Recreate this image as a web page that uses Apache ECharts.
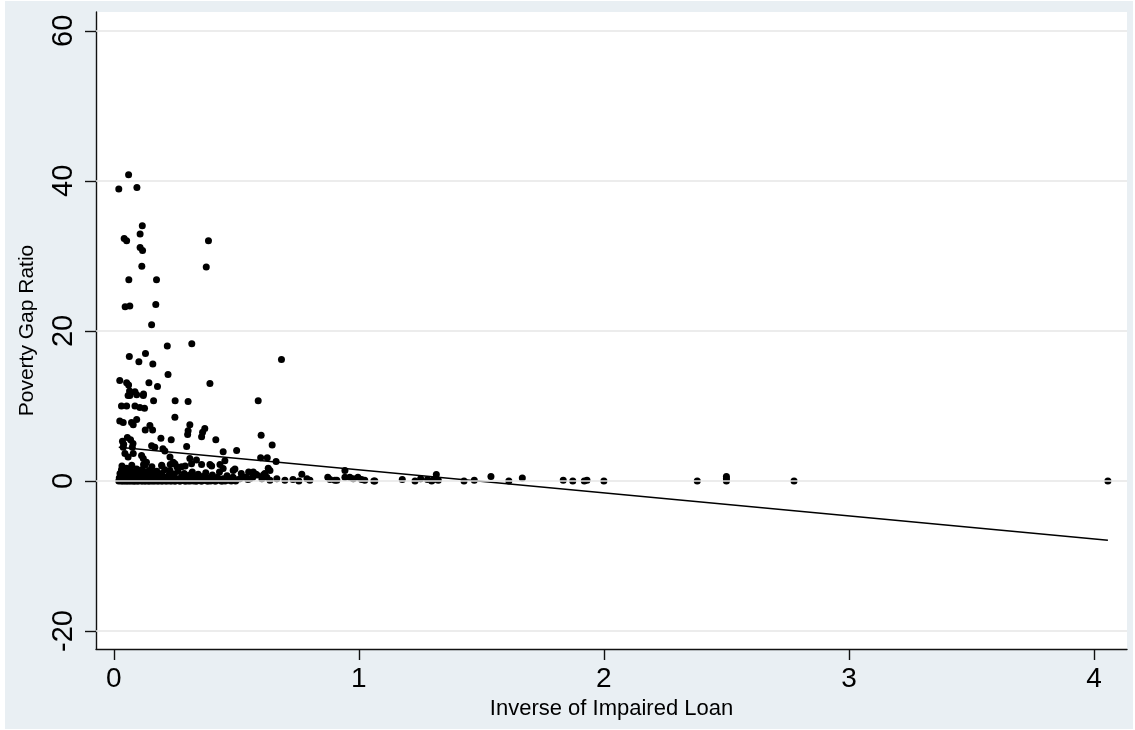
<!DOCTYPE html>
<html>
<head>
<meta charset="utf-8">
<title>Poverty Gap Ratio vs Inverse of Impaired Loan</title>
<script src="https://cdn.jsdelivr.net/npm/echarts@6/dist/echarts.min.js"></script>
<style>
  html, body { margin: 0; padding: 0; background: #fff; }
  #chart { position: absolute; left: 5px; top: 1px; width: 1128px; height: 728px; background: #e9eff3; }
</style>
</head>
<body>
<div id="chart"></div>
<script>
// tick labels
var xTicks = [0, 1, 2, 3, 4];
var yTicks = [-20, 0, 20, 40, 60];

// points, [inverse of impaired loan, poverty gap ratio]
var highPts = [
  [0.060, 40.8], [0.020, 38.9], [0.094, 39.1], [0.116, 34.0], [0.107, 32.9], [0.042, 32.3],
  [0.052, 32.0], [0.386, 32.0], [0.107, 31.1], [0.117, 30.7], [0.114, 28.6], [0.377, 28.5],
  [0.061, 26.8], [0.174, 26.8], [0.046, 23.2], [0.065, 23.3], [0.171, 23.5], [0.154, 20.8],
  [0.063, 16.6], [0.102, 15.9], [0.129, 17.0], [0.218, 18.0], [0.318, 18.3], [0.159, 15.6],
  [0.684, 16.2], [0.221, 14.2], [0.024, 13.4], [0.052, 13.1], [0.143, 13.1], [0.178, 12.6],
  [0.392, 13.0], [0.060, 12.8], [0.064, 12.0], [0.086, 11.9], [0.093, 11.5], [0.065, 11.4],
  [0.121, 11.6], [0.058, 11.4], [0.120, 11.4]
];

var midPts = [
  [0.162, 10.7], [0.250, 10.7], [0.303, 10.6], [0.589, 10.7], [0.031, 10.0], [0.052, 10.0],
  [0.086, 10.0], [0.106, 9.8], [0.125, 9.7], [0.249, 8.5], [0.024, 8.0], [0.038, 7.8],
  [0.072, 7.8], [0.079, 7.5], [0.093, 8.2], [0.147, 7.4], [0.128, 6.8], [0.158, 6.8],
  [0.310, 7.5], [0.303, 6.7], [0.301, 6.2], [0.371, 7.0], [0.362, 6.5], [0.358, 5.9],
  [0.416, 5.5], [0.192, 5.7], [0.234, 5.5], [0.601, 6.1], [0.646, 4.8], [0.035, 5.3],
  [0.040, 4.9], [0.068, 5.5], [0.078, 5.0], [0.038, 4.5], [0.075, 4.5], [0.055, 5.8],
  [0.154, 4.7], [0.167, 4.5], [0.200, 4.3], [0.208, 4.0], [0.297, 4.6], [0.446, 3.9],
  [0.501, 4.05], [0.599, 3.1], [0.626, 3.1], [0.662, 2.6], [0.045, 3.65], [0.058, 3.2],
  [0.079, 3.65], [0.113, 3.4], [0.120, 3.0], [0.133, 2.5], [0.127, 2.1], [0.229, 3.2],
  [0.242, 2.5], [0.310, 3.0], [0.337, 2.8], [0.317, 2.3], [0.358, 2.2], [0.392, 2.2],
  [0.399, 2.0], [0.433, 2.2], [0.453, 2.7], [0.195, 2.1], [0.249, 2.3], [0.276, 1.9],
  [0.229, 1.4], [0.446, 1.65], [0.487, 1.4], [0.569, 1.2], [0.616, 1.0], [0.637, 1.4],
  [0.033, 2.0], [0.073, 2.1], [0.121, 2.2], [0.155, 1.9], [0.196, 2.0], [0.230, 2.2],
  [0.257, 1.9], [0.291, 2.0], [0.494, 1.6], [0.630, 1.7]
];

var bandPts = [
  [0.020, 0.0], [0.022, 0.4], [0.025, 1.0], [0.028, 0.1], [0.031, 1.5], [0.033, 0.6],
  [0.036, 0.0], [0.039, 0.9], [0.041, 0.2], [0.044, 1.3], [0.047, 0.5], [0.050, 0.0],
  [0.052, 1.7], [0.055, 0.8], [0.058, 0.2], [0.061, 1.1], [0.063, 0.0], [0.066, 0.5],
  [0.069, 1.4], [0.072, 0.1], [0.075, 0.7], [0.078, 0.0], [0.081, 1.2], [0.084, 0.3],
  [0.087, 0.0], [0.090, 0.9], [0.093, 1.6], [0.096, 0.2], [0.099, 0.0], [0.102, 0.6],
  [0.105, 1.0], [0.108, 0.1], [0.111, 0.4], [0.114, 1.5], [0.117, 0.0], [0.120, 0.8],
  [0.124, 0.2], [0.127, 1.2], [0.130, 0.0], [0.134, 0.5], [0.137, 0.9], [0.141, 0.0],
  [0.144, 1.4], [0.148, 0.3], [0.152, 0.0], [0.155, 0.7], [0.159, 1.1], [0.163, 0.1],
  [0.167, 0.0], [0.171, 0.6], [0.175, 1.3], [0.179, 0.2], [0.183, 0.0], [0.187, 0.8],
  [0.191, 0.3], [0.195, 1.0], [0.199, 0.0], [0.204, 0.5], [0.208, 1.5], [0.213, 0.1],
  [0.217, 0.0], [0.222, 0.7], [0.226, 0.2], [0.231, 1.1], [0.236, 0.0], [0.241, 0.4],
  [0.246, 0.9], [0.251, 0.0], [0.256, 0.3], [0.261, 1.3], [0.266, 0.1], [0.271, 0.0],
  [0.276, 0.6], [0.282, 0.2], [0.287, 1.0], [0.292, 0.0], [0.298, 0.4], [0.303, 0.0],
  [0.309, 0.8], [0.314, 0.1], [0.320, 1.2], [0.326, 0.0], [0.332, 0.5], [0.338, 0.0],
  [0.344, 0.9], [0.350, 0.2], [0.356, 0.0], [0.362, 0.6], [0.369, 0.1], [0.375, 1.1],
  [0.381, 0.0], [0.388, 0.4], [0.395, 0.0], [0.402, 0.8], [0.409, 0.2], [0.416, 0.0],
  [0.423, 0.5], [0.431, 1.2], [0.438, 0.0], [0.446, 0.3], [0.454, 0.0], [0.462, 0.7],
  [0.470, 0.1], [0.479, 0.0], [0.488, 0.4], [0.497, 0.0],
  [0.023, 0.2], [0.030, 0.0], [0.037, 0.3], [0.043, 0.0], [0.049, 0.3], [0.056, 0.0],
  [0.062, 0.3], [0.070, 0.0], [0.076, 0.3], [0.083, 0.0], [0.089, 0.2], [0.097, 0.0],
  [0.104, 0.3], [0.112, 0.0], [0.119, 0.2], [0.126, 0.0], [0.135, 0.2], [0.143, 0.0],
  [0.150, 0.2], [0.160, 0.0], [0.169, 0.3], [0.177, 0.0], [0.186, 0.2], [0.194, 0.0],
  [0.202, 0.3], [0.211, 0.0], [0.220, 0.2], [0.229, 0.0], [0.239, 0.2], [0.248, 0.0],
  [0.258, 0.2], [0.268, 0.0], [0.279, 0.2], [0.290, 0.0], [0.300, 0.2], [0.312, 0.0],
  [0.323, 0.3], [0.335, 0.0], [0.347, 0.2], [0.359, 0.0], [0.372, 0.3], [0.384, 0.0],
  [0.398, 0.2], [0.412, 0.0], [0.427, 0.2], [0.442, 0.0]
];

var sparsePts = [
  [0.486, 0.5], [0.514, 0.3], [0.539, 0.5], [0.547, 0.2], [0.567, 0.5], [0.584, 0.8],
  [0.604, 0.3], [0.624, 0.5], [0.637, 0.1], [0.665, 0.3], [0.698, 0.1], [0.731, 0.2],
  [0.755, 0.0], [0.767, 0.9], [0.788, 0.3], [0.800, 0.1], [0.873, 0.5], [0.882, 0.2],
  [0.910, 0.1], [0.943, 1.4], [0.943, 0.5], [0.963, 0.5], [0.996, 0.5], [1.024, 0.1],
  [1.065, 0.0], [0.520, 1.0], [0.550, 1.2], [0.580, 0.9], [0.610, 0.8], [0.528, 0.5],
  [0.555, 0.3], [0.902, 0.1], [0.977, 0.3]
];

var tailPts = [
  [1.011, 0.2], [1.061, 0.0], [1.177, 0.2], [1.229, 0.0], [1.252, 0.3], [1.280, 0.2],
  [1.297, 0.0], [1.306, 0.2], [1.324, 0.1], [1.316, 0.85], [1.429, 0.0], [1.471, 0.1],
  [1.539, 0.6], [1.612, 0.0], [1.667, 0.4], [1.834, 0.1], [1.873, 0.0], [1.920, 0.0],
  [1.931, 0.1], [2.000, 0.0], [2.381, 0.0], [2.500, 0.6], [2.500, 0.3], [2.500, 0.0],
  [2.776, 0.0], [4.057, 0.0]
];

// fitted line ends
var fitX = [0.02, 4.057];
var fitY = [4.5, -7.9];

var font = "'Liberation Sans', Arial, Helvetica, sans-serif";
var chart = echarts.init(document.getElementById('chart'));

var points = highPts.concat(midPts, bandPts, sparsePts, tailPts);
var fitLine = fitX.map(function (x, i) { return [x, fitY[i]]; });

chart.setOption({
  animation: false,
  grid: {
    left: 91, top: 11, right: 6, bottom: 80,
    show: true, backgroundColor: '#fff', borderWidth: 0
  },
  xAxis: {
    type: 'value',
    min: -0.073, max: 4.135,
    name: 'Inverse of Impaired Loan',
    nameLocation: 'middle',
    nameGap: 49,
    nameTextStyle: { fontFamily: font, fontSize: 22, color: '#000' },
    axisLine: { show: true, onZero: false, lineStyle: { color: '#111', width: 1.4 } },
    axisTick: { show: true, customValues: xTicks, length: 11, lineStyle: { color: '#111', width: 1.4 } },
    axisLabel: { customValues: xTicks, fontFamily: font, fontSize: 28, color: '#000', margin: 16 },
    splitLine: { show: false }
  },
  yAxis: {
    type: 'value',
    min: -22.4, max: 62.5,
    name: 'Poverty Gap Ratio',
    nameLocation: 'middle',
    nameGap: 58,
    nameTextStyle: { fontFamily: font, fontSize: 21, color: '#000' },
    axisLine: { show: true, onZero: false, lineStyle: { color: '#111', width: 1.4 } },
    axisTick: { show: true, customValues: yTicks, length: 11, lineStyle: { color: '#111', width: 1.4 } },
    axisLabel: { customValues: yTicks, rotate: 90, fontFamily: font, fontSize: 29, color: '#000', margin: 18 },
    splitLine: { show: false }
  },
  series: [
    {
      // horizontal grid lines at the y ticks
      type: 'line',
      data: [],
      z: 1,
      markLine: {
        silent: true,
        symbol: 'none',
        label: { show: false },
        lineStyle: { color: '#e6e6e6', width: 1.5, type: 'solid' },
        data: yTicks.map(function (v) { return { yAxis: v }; })
      }
    },
    {
      type: 'scatter',
      data: points,
      symbol: 'circle',
      symbolSize: 7,
      itemStyle: { color: '#000', opacity: 1 },
      z: 3
    },
    {
      type: 'line',
      data: fitLine,
      showSymbol: false,
      symbol: 'none',
      lineStyle: { color: '#000', width: 1.5 },
      z: 4
    }
  ]
});
</script>
</body>
</html>
